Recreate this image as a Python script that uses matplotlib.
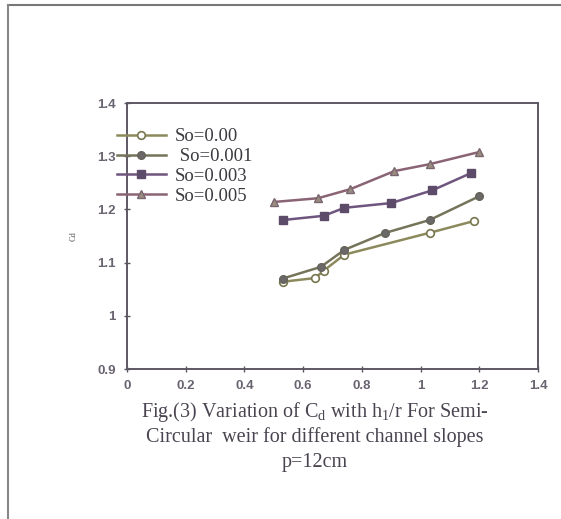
import matplotlib
matplotlib.use("Agg")
import matplotlib.pyplot as plt
from matplotlib.lines import Line2D

plt.rcParams['mathtext.fontset'] = 'custom'
plt.rcParams['mathtext.rm'] = 'Liberation Serif'
plt.rcParams['mathtext.it'] = 'Liberation Serif:italic'

# h1/r and Cd for each channel slope
x_s000 = [0.53, 0.64, 0.67, 0.74, 1.03, 1.18]
cd_s000 = [1.064, 1.071, 1.085, 1.115, 1.156, 1.178]
x_s001 = [0.53, 0.66, 0.74, 0.88, 1.03, 1.20]
cd_s001 = [1.070, 1.092, 1.124, 1.156, 1.180, 1.225]
x_s003 = [0.53, 0.67, 0.74, 0.90, 1.04, 1.17]
cd_s003 = [1.180, 1.188, 1.203, 1.212, 1.236, 1.268]
x_s005 = [0.50, 0.65, 0.76, 0.91, 1.03, 1.20]
cd_s005 = [1.214, 1.221, 1.238, 1.272, 1.285, 1.308]

labels = ['So=0.00', ' So=0.001', 'So=0.003', 'So=0.005']
xticks = [0, 0.2, 0.4, 0.6, 0.8, 1, 1.2, 1.4]
yticks = [0.9, 1, 1.1, 1.2, 1.3, 1.4]

fig = plt.figure(figsize=(5.61, 5.19), dpi=100)
ax = fig.add_axes([0.2264, 0.289, 0.733, 0.5125])

serif = ['Liberation Serif', 'DejaVu Serif']
sans = ['Liberation Sans', 'DejaVu Sans']

ax.plot(x_s000, cd_s000, '-o', color='#8c8a5c', lw=1.8, ms=5.5,
        mfc='white', mec='#77764e', mew=1.2, label=labels[0])
ax.plot(x_s001, cd_s001, '-o', color='#75745a', lw=1.8, ms=5.5,
        mfc='#6a6868', mec='#66645a', mew=1.0, label=labels[1])
ax.plot(x_s003, cd_s003, '-s', color='#6e557e', lw=1.8, ms=6,
        mfc='#5c4c6a', mec='#5c4c6a', label=labels[2])
ax.plot(x_s005, cd_s005, '-^', color='#8a6474', lw=1.8, ms=6,
        mfc='#9a8c80', mec='#7a6670', label=labels[3])

ax.set_xlim(0, 1.4)
ax.set_ylim(0.9, 1.4)
ax.set_xticks(xticks)
ax.set_xticklabels(['0', '0.2', '0.4', '0.6', '0.8', '1', '1.2', '1.4'])
ax.set_yticks(yticks)
ax.set_yticklabels(['0.9', '1', '1.1', '1.2', '1.3', '1.4'])
ax.tick_params(direction='inout', length=4, width=1, colors='#5a5560',
               labelsize=9.5, pad=6)
for t in ax.get_xticklabels() + ax.get_yticklabels():
    t.set_family(sans)
    t.set_color('#6a6470')
    t.set_fontweight('bold')
for s in ax.spines.values():
    s.set_color('#5e5864')
    s.set_linewidth(1.4)

ax.set_ylabel('Cd', fontsize=6, family=serif, color='#555', labelpad=14)

leg = ax.legend(loc='upper left', bbox_to_anchor=(117 / 561, 1 - 128 / 519),
                bbox_transform=fig.transFigure, frameon=False,
                prop={'family': serif, 'size': 13.5},
                handlelength=2.6, handletextpad=0.5, labelspacing=0.15,
                borderpad=0, borderaxespad=0)
for t in leg.get_texts():
    t.set_color('#3a3a40')

caption = [r'Fig.(3) Variation of C$_{\mathrm{d}}$ with h$_{\mathrm{1}}$/r For Semi-',
           'Circular  weir for different channel slopes',
           'p=12cm']
for i, line in enumerate(caption):
    fig.text(315 / 561, 1 - (412 + 25 * i) / 519, line, ha='center', va='center',
             fontsize=14.5, family=serif, color='#4a4450')

# scanned page border
fig.add_artist(Line2D([8 / 561, 1], [1 - 5 / 519, 1 - 5 / 519],
                      transform=fig.transFigure, color='#777', lw=1.5))
fig.add_artist(Line2D([8 / 561, 8 / 561], [0, 1 - 5 / 519],
                      transform=fig.transFigure, color='#888', lw=1.5))

fig.savefig('out.png', dpi=100)
